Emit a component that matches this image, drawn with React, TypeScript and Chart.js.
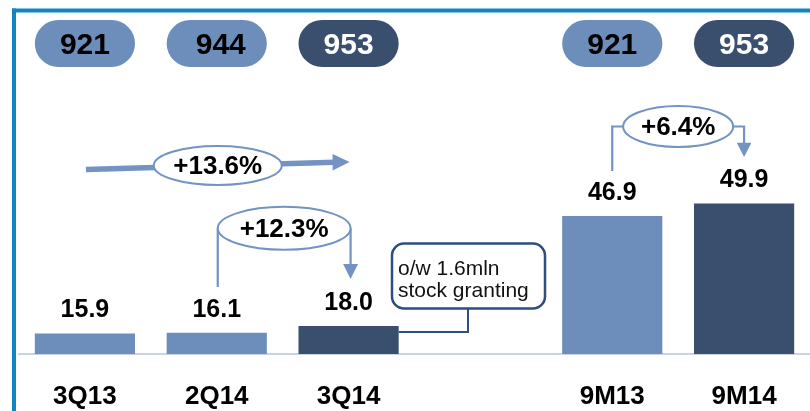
import React, { useEffect, useRef } from 'react';
import { Chart, registerables } from 'chart.js';

Chart.register(...registerables);

const categories = ['3Q13', '2Q14', '3Q14', '', '9M13', '9M14'];
const quarterValues = [15.9, 16.1, 18.0, null, null, null];
const nineMonthValues = [null, null, null, null, 46.9, 49.9];
const headcountValues = [921, 944, 953, null, 921, 953];
const darkFlags = [false, false, true, false, false, true];
const growthLabels = ['+13.6%', '+12.3%', '+6.4%'];
const calloutLines = ['o/w 1.6mln', 'stock granting'];

const LIGHT = '#6d8ebb';
const DARK = '#3a4e6e';
const ACCENT = '#7393c2';
const FRAME = '#1185bd';
const BOX = '#2d4e7e';
const FONT = '"Liberation Sans", Arial, Helvetica, sans-serif';

const colorFor = (i: number) => (darkFlags[i] ? DARK : LIGHT);

function ellipseLabel(ctx: CanvasRenderingContext2D, cx: number, cy: number, rx: number, ry: number, text: string) {
  ctx.beginPath();
  ctx.ellipse(cx, cy, rx, ry, 0, 0, Math.PI * 2);
  ctx.fillStyle = '#ffffff';
  ctx.fill();
  ctx.lineWidth = 2;
  ctx.strokeStyle = ACCENT;
  ctx.stroke();
  ctx.fillStyle = '#000000';
  ctx.font = `bold 26px ${FONT}`;
  ctx.textAlign = 'center';
  ctx.textBaseline = 'middle';
  ctx.fillText(text, cx, cy + 1.5);
}

function arrowDown(ctx: CanvasRenderingContext2D, x: number, top: number, tip: number, half: number) {
  ctx.beginPath();
  ctx.moveTo(x - half, top);
  ctx.lineTo(x + half, top);
  ctx.lineTo(x, tip);
  ctx.closePath();
  ctx.fillStyle = ACCENT;
  ctx.fill();
}

const decorPlugin = {
  id: 'decor',
  beforeDraw(chart: any) {
    const ctx = chart.ctx as CanvasRenderingContext2D;
    ctx.save();
    ctx.fillStyle = '#ffffff';
    ctx.fillRect(0, 0, chart.width, chart.height);
    ctx.fillStyle = FRAME;
    ctx.fillRect(12, 8.5, 4, chart.height);
    ctx.fillRect(12, 8.5, chart.width - 12, 4);
    ctx.restore();
  },
  afterDatasetsDraw(chart: any) {
    const ctx = chart.ctx as CanvasRenderingContext2D;
    const xs = chart.scales.x;
    const cx = (i: number) => xs.getPixelForValue(i);
    const barW = chart.getDatasetMeta(0).data[0].width;
    ctx.save();

    // value labels
    chart.data.datasets.forEach((ds: any, d: number) => {
      const meta = chart.getDatasetMeta(d);
      meta.data.forEach((el: any, i: number) => {
        const v = ds.data[i];
        if (v == null) return;
        ctx.fillStyle = '#000000';
        ctx.font = `bold 25px ${FONT}`;
        ctx.textAlign = 'center';
        ctx.textBaseline = 'middle';
        ctx.fillText(v.toFixed(1), el.x, el.y - 23);
      });
    });

    // headcount pills
    headcountValues.forEach((v, i) => {
      if (v == null) return;
      const x = cx(i) - barW / 2;
      const y = 20;
      const h = 47;
      ctx.beginPath();
      ctx.roundRect(x, y, barW, h, h / 2);
      ctx.fillStyle = colorFor(i);
      ctx.fill();
      ctx.fillStyle = darkFlags[i] ? '#ffffff' : '#000000';
      ctx.font = `bold 30px ${FONT}`;
      ctx.textAlign = 'center';
      ctx.textBaseline = 'middle';
      ctx.fillText(String(v), cx(i) + (i === 1 ? 4 : 0), y + h / 2 + 2.5);
    });

    // +13.6% long arrow (3Q13 -> 3Q14)
    const a0 = cx(0) + 1;
    const a2 = cx(2);
    ctx.beginPath();
    ctx.moveTo(a0, 169.5);
    ctx.lineTo(a2 - 14, 162.3);
    ctx.lineWidth = 5.5;
    ctx.strokeStyle = ACCENT;
    ctx.stroke();
    ctx.beginPath();
    ctx.moveTo(a2 - 16, 154);
    ctx.lineTo(a2 + 1, 162);
    ctx.lineTo(a2 - 16, 170.5);
    ctx.closePath();
    ctx.fillStyle = ACCENT;
    ctx.fill();
    ellipseLabel(ctx, cx(1) + 1, 165.5, 64, 19.5, growthLabels[0]);

    // +12.3% bracket (2Q14 -> 3Q14)
    const b1 = cx(1) + 1;
    const b2 = cx(2) + 2;
    const bY = 228.3;
    ctx.beginPath();
    ctx.moveTo(b1, 287);
    ctx.lineTo(b1, bY);
    ctx.moveTo(b2, bY);
    ctx.lineTo(b2, 265);
    ctx.lineWidth = 2.2;
    ctx.strokeStyle = ACCENT;
    ctx.stroke();
    arrowDown(ctx, b2, 264, 279, 7.5);
    ellipseLabel(ctx, (b1 + b2) / 2, bY, (b2 - b1) / 2, 21.5, growthLabels[1]);

    // +6.4% bracket (9M13 -> 9M14)
    const c1 = cx(4);
    const c2 = cx(5);
    const cY = 126.5;
    const cMid = (c1 + c2) / 2;
    ctx.beginPath();
    ctx.moveTo(c1, 171);
    ctx.lineTo(c1, cY);
    ctx.lineTo(cMid - 55, cY);
    ctx.moveTo(cMid + 55, cY);
    ctx.lineTo(c2, cY);
    ctx.lineTo(c2, 143);
    ctx.lineWidth = 2.2;
    ctx.strokeStyle = ACCENT;
    ctx.stroke();
    arrowDown(ctx, c2, 142.7, 157, 7.3);
    ellipseLabel(ctx, cMid, cY, 55, 20.5, growthLabels[2]);

    // callout box
    const barRight = cx(2) + barW / 2;
    ctx.beginPath();
    ctx.moveTo(barRight, 332);
    ctx.lineTo(468, 332);
    ctx.lineTo(468, 308);
    ctx.lineWidth = 2;
    ctx.strokeStyle = BOX;
    ctx.stroke();
    ctx.beginPath();
    ctx.roundRect(392, 243.5, 153, 65, 12);
    ctx.fillStyle = '#ffffff';
    ctx.fill();
    ctx.lineWidth = 2.5;
    ctx.strokeStyle = BOX;
    ctx.stroke();
    ctx.fillStyle = '#111111';
    ctx.font = `21px ${FONT}`;
    ctx.textAlign = 'left';
    ctx.textBaseline = 'alphabetic';
    ctx.fillText(calloutLines[0], 398, 275);
    ctx.fillText(calloutLines[1], 398, 297);

    ctx.restore();
  },
};

export default function App() {
  const ref = useRef<HTMLCanvasElement | null>(null);
  useEffect(() => {
    if (!ref.current) return;
    const chart = new Chart(ref.current, {
      type: 'bar',
      data: {
        labels: categories,
        datasets: [
          {
            data: quarterValues as any,
            yAxisID: 'y',
            backgroundColor: categories.map((_, i) => colorFor(i)),
            grouped: false,
            barPercentage: 0.76,
            categoryPercentage: 1,
          } as any,
          {
            data: nineMonthValues as any,
            yAxisID: 'y2',
            backgroundColor: categories.map((_, i) => colorFor(i)),
            grouped: false,
            barPercentage: 0.76,
            categoryPercentage: 1,
          } as any,
        ],
      },
      options: {
        responsive: false,
        animation: false,
        devicePixelRatio: 1,
        layout: { padding: { left: 19, right: 0, top: 13, bottom: 1 } },
        plugins: { legend: { display: false }, tooltip: { enabled: false } },
        scales: {
          x: {
            grid: { display: false, drawTicks: false },
            border: { display: true, color: '#c9d3e6', width: 2 },
            ticks: {
              color: '#000000',
              font: { family: FONT, size: 26, weight: 'bold', lineHeight: 1 },
              padding: 30,
              maxRotation: 0,
              autoSkip: false,
            },
            afterFit: (scale: any) => {
              scale.height = 56;
            },
          },
          y: { display: false, min: 10.16, max: 105.7 },
          y2: { display: false, min: 13.78, max: 95.6 },
        },
      } as any,
      plugins: [decorPlugin],
    });
    return () => chart.destroy();
  }, []);
  return (
    <div style={{ position: 'fixed', left: 0, top: 0, width: 810, height: 411, background: '#fff' }}>
      <canvas ref={ref} width={810} height={411} style={{ display: 'block' }} />
    </div>
  );
}
